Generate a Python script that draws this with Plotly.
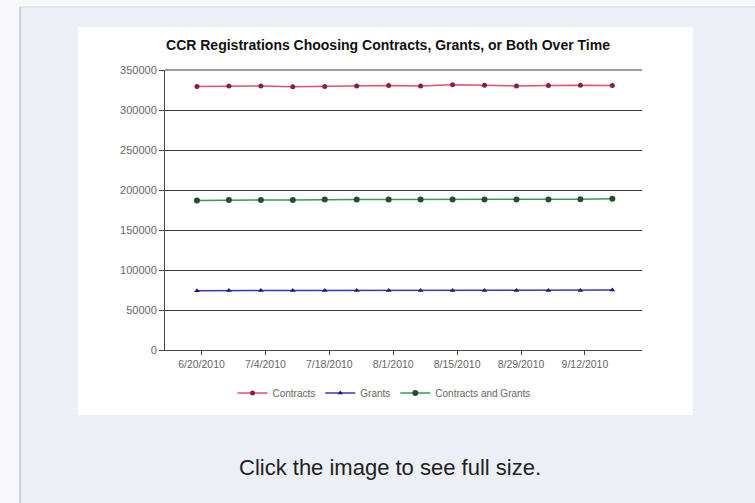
import plotly.graph_objects as go
import pandas as pd

# Weekly snapshot dates
dates = pd.date_range("2010-06-19", periods=14, freq="7D")

contracts = [329500, 330000, 330000, 329000, 329500, 330000, 330500,
             330000, 331500, 331000, 330000, 330500, 331000, 330500]
grants = [74000, 74500, 74500, 74500, 74500, 74500, 74500,
          74500, 74500, 74500, 74500, 74500, 74500, 75000]
both = [187000, 187500, 187500, 187500, 188000, 188000, 188000,
        188000, 188000, 188000, 188000, 188000, 188500, 189000]

series_names = ["Contracts", "Grants", "Contracts and Grants"]

FONT = "Liberation Sans, Arial, sans-serif"

# Plot-area pixel frame inside the 755x503 page
L, R, T, B = 165, 642, 70, 350
W, H = R - L, B - T


def px_x(p):
    return (p - L) / W


def px_y(p):
    return (B - p) / H


fig = go.Figure()
fig.add_trace(go.Scatter(
    x=dates, y=contracts, name=series_names[0], mode="lines+markers",
    line=dict(color="#e2506a", width=1.5),
    marker=dict(symbol="circle", size=5, color="#8a2040")))
fig.add_trace(go.Scatter(
    x=dates, y=grants, name=series_names[1], mode="lines+markers",
    line=dict(color="#3a36b8", width=1.5),
    marker=dict(symbol="triangle-up", size=5, color="#1a1a70")))
fig.add_trace(go.Scatter(
    x=dates, y=both, name=series_names[2], mode="lines+markers",
    line=dict(color="#3c9a48", width=1.5),
    marker=dict(symbol="circle", size=6, color="#244e2c")))

shapes = [
    # white chart card
    dict(type="rect", xref="paper", yref="paper", layer="below",
         x0=px_x(78), x1=px_x(693), y0=px_y(415), y1=px_y(27),
         fillcolor="white", line=dict(width=0)),
    # left and top strips outside the panel
    dict(type="rect", xref="paper", yref="paper", layer="below",
         x0=px_x(0), x1=px_x(19.5), y0=px_y(503), y1=px_y(0),
         fillcolor="#f8f8fb", line=dict(width=0)),
    dict(type="rect", xref="paper", yref="paper", layer="below",
         x0=px_x(0), x1=px_x(755), y0=px_y(6.5), y1=px_y(0),
         fillcolor="#f8f8fb", line=dict(width=0)),
    # frame lines of the surrounding panel
    dict(type="line", xref="paper", yref="paper",
         x0=px_x(20), x1=px_x(20), y0=px_y(7), y1=px_y(503),
         line=dict(color="#c4c6cf", width=1.5)),
    dict(type="line", xref="paper", yref="paper",
         x0=px_x(20), x1=px_x(755), y0=px_y(7), y1=px_y(7),
         line=dict(color="#d6d8e0", width=1)),
    # top gridline at the upper edge of the value axis
    dict(type="line", xref="paper", yref="paper", layer="below",
         x0=0, x1=1, y0=1, y1=1,
         line=dict(color="#3a3a3a", width=1)),
]

fig.update_layout(
    width=755, height=503,
    margin=dict(l=L, r=755 - R, t=T, b=503 - B),
    paper_bgcolor="#edeff7",
    plot_bgcolor="white",
    font=dict(family=FONT, color="#555555"),
    title=dict(text="CCR Registrations Choosing Contracts, Grants, or Both Over Time",
               x=388 / 755, xanchor="center",
               y=1 - 45 / 503, yanchor="middle", yref="container",
               font=dict(size=14, color="#111111", family=FONT,
                         weight="bold")),
    showlegend=True,
    legend=dict(orientation="h", x=px_x(384), xanchor="center",
                y=px_y(393), yanchor="middle", itemwidth=30,
                font=dict(size=10, color="#666666"), bgcolor="rgba(0,0,0,0)"),
    shapes=shapes,
    annotations=[dict(text="Click the image to see full size.",
                      xref="paper", yref="paper", x=px_x(390), y=px_y(467),
                      xanchor="center", yanchor="middle", showarrow=False,
                      font=dict(size=22, color="#222222", family=FONT))],
)

fig.update_yaxes(range=[0, 350000], dtick=50000, tickformat="d",
                 showgrid=True, gridcolor="#3a3a3a", gridwidth=1,
                 showline=True, linecolor="#444444", linewidth=1,
                 ticks="outside", ticklen=5, tickcolor="#444444",
                 tickfont=dict(size=11, color="#666666"), zeroline=False)
fig.update_xaxes(range=["2010-06-12", "2010-09-24 12:00"],
                 tick0="2010-06-20", dtick=14 * 86400000,
                 tickformat="%-m/%-d/%Y", showgrid=False,
                 showline=True, linecolor="#444444", linewidth=1,
                 ticks="outside", ticklen=4, tickcolor="#444444",
                 tickfont=dict(size=10.5, color="#666666"))

fig.write_html("out.html")
